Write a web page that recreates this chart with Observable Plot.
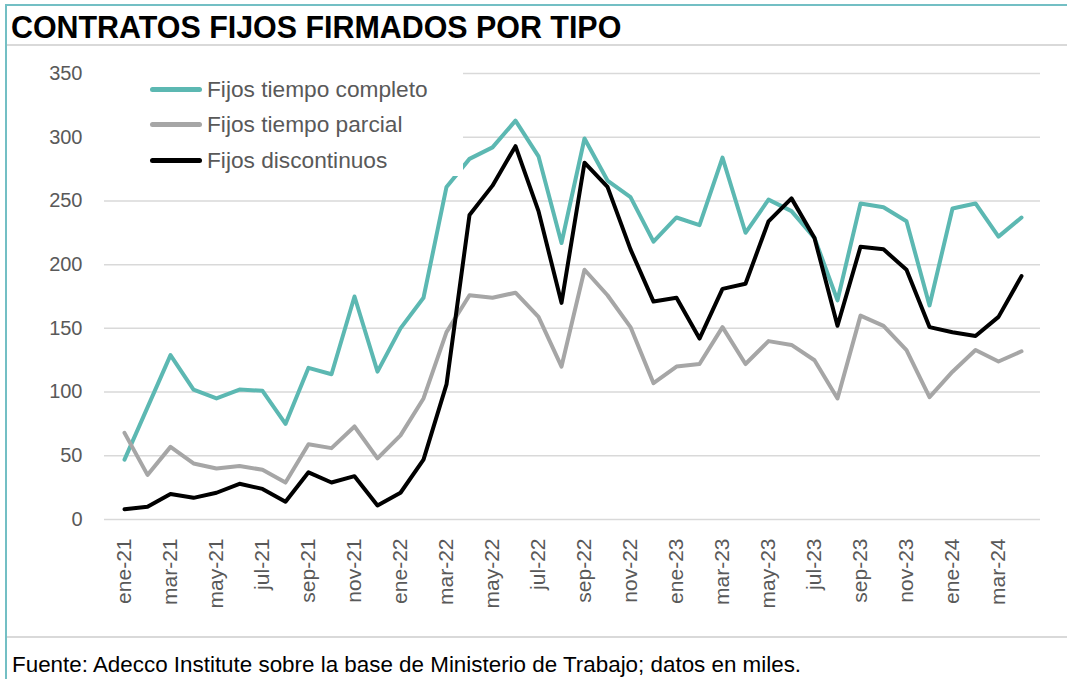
<!DOCTYPE html>
<html><head><meta charset="utf-8">
<script src="https://cdn.jsdelivr.net/npm/d3@7"></script>
<script src="https://cdn.jsdelivr.net/npm/@observablehq/plot@0.6"></script>
<style>
body{margin:0;background:#fff;font-family:"Liberation Sans",Arial,sans-serif;width:1067px;height:679px;overflow:hidden;position:relative;}
#frame{position:absolute;left:5px;top:4px;width:1062px;height:700px;border-top:2px solid #73bfc4;border-left:2px solid #73bfc4;}
#title{position:absolute;left:11px;top:9px;font-weight:bold;font-size:32px;line-height:36px;color:#000;white-space:nowrap;transform:scaleX(0.95);transform-origin:left center;}
#sep1{position:absolute;left:7px;top:44px;width:1060px;height:2px;background:#d9d9d9;}
#sep2{position:absolute;left:7px;top:636px;width:1060px;height:2px;background:#d9d9d9;}
#chart{position:absolute;left:0;top:50px;}
#legend{position:absolute;left:100px;top:66px;width:363px;height:110px;background:#fff;}
.row{position:absolute;left:0;height:36px;display:flex;align-items:center;}
.sw{width:52px;height:5px;border-radius:3px;margin-left:50px;margin-right:5px;}
.lt{font-size:22.7px;color:#595959;white-space:nowrap;}
#caption{position:absolute;left:12px;top:654px;font-size:22.4px;line-height:22px;color:#000;white-space:nowrap;}
</style></head>
<body>
<div id="frame"></div>
<div id="title">CONTRATOS FIJOS FIRMADOS POR TIPO</div>
<div id="sep1"></div>
<div id="chart"></div>
<div id="legend"></div>
<div id="sep2"></div>
<div id="caption">Fuente: Adecco Institute sobre la base de Ministerio de Trabajo; datos en miles.</div>
<script>
const months = ["ene-21","feb-21","mar-21","abr-21","may-21","jun-21","jul-21","ago-21","sep-21","oct-21","nov-21","dic-21",
"ene-22","feb-22","mar-22","abr-22","may-22","jun-22","jul-22","ago-22","sep-22","oct-22","nov-22","dic-22",
"ene-23","feb-23","mar-23","abr-23","may-23","jun-23","jul-23","ago-23","sep-23","oct-23","nov-23","dic-23",
"ene-24","feb-24","mar-24","abr-24"];
const tiempoCompleto = [47,88,129,102,95,102,101,75,119,114,175,116,150,174,261,283,292,313,285,217,299,266,253,218,237,231,284,225,251,242,221,172,248,245,234,168,244,248,222,237];
const tiempoParcial = [68,35,57,44,40,42,39,29,59,56,73,48,66,95,147,176,174,178,159,120,196,176,151,107,120,122,151,122,140,137,125,95,160,152,133,96,116,133,124,132];
const discontinuos = [8,10,20,17,21,28,24,14,37,29,34,11,21,47,106,239,262,293,242,170,280,261,212,171,174,142,181,185,234,252,221,152,214,212,196,151,147,144,159,191];
const seriesNames = ["Fijos tiempo completo","Fijos tiempo parcial","Fijos discontinuos"];
const seriesColors = ["#5cb8b2","#a6a6a6","#000000"];
const yTicks = [0,50,100,150,200,250,300,350];
const xTickLabels = months.filter((d,i)=>i%2===0);

const seriesValues = [tiempoCompleto, tiempoParcial, discontinuos];
const data = seriesNames.flatMap((s,k)=>months.map((m,i)=>({month:m, value:seriesValues[k][i], serie:s})));

const chart = Plot.plot({
  width:1067, height:587,
  marginTop:23, marginBottom:118, marginLeft:104, marginRight:27,
  style:{fontFamily:"'Liberation Sans', Arial, sans-serif", fontSize:"20px", color:"#595959", background:"transparent"},
  x:{type:"point", domain:months, padding:0.5},
  y:{domain:[0,350]},
  color:{domain:seriesNames, range:seriesColors},
  marks:[
    Plot.ruleY(yTicks, {stroke:"#d9d9d9", strokeWidth:1.5}),
    Plot.axisY({ticks:yTicks, tickSize:0, tickPadding:22, label:null, fontSize:20}),
    Plot.axisX({ticks:xTickLabels, tickSize:0, tickRotate:-90, tickPadding:19, label:null, fontSize:21}),
    Plot.line(data, {x:"month", y:"value", z:"serie", stroke:"serie", strokeWidth:4, strokeLinejoin:"round", strokeLinecap:"round"})
  ]
});
document.getElementById("chart").appendChild(chart);

const legend = document.getElementById("legend");
seriesNames.forEach((s,k)=>{
  const row = document.createElement("div");
  row.className = "row";
  row.style.top = (5 + k*35.5) + "px";
  row.innerHTML = `<div class="sw" style="background:${seriesColors[k]}"></div><span class="lt">${s}</span>`;
  legend.appendChild(row);
});
</script>
</body></html>
